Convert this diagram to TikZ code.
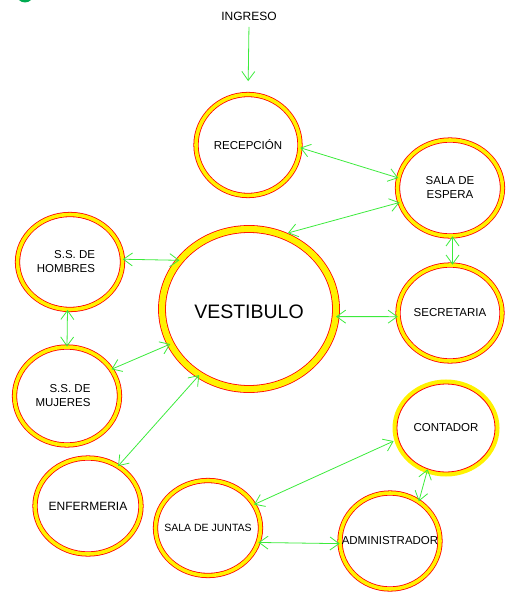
\documentclass[tikz,border=0pt]{standalone}
\usepackage{fontspec}
\setmainfont{Liberation Sans}
\usetikzlibrary{shapes.geometric,arrows.meta}
\definecolor{flecha}{RGB}{60,235,60}
\definecolor{verdeo}{RGB}{0,170,80}
\begin{document}
\begin{tikzpicture}[x=1pt, y=-1pt, >={Straight Barb[length=9pt,width=13pt]},
	sala/.style={ellipse, draw=red, double=yellow, double distance=3.6pt, line width=0.8pt, inner sep=0pt},
	txt/.style={font=\fontsize{11.5}{14}\selectfont, align=#1},
	txt/.default=center,
	flujo/.style={draw=flecha, line width=0.8pt}]
	\useasboundingbox (0,0) rectangle (508,604);
	% resto del logo (cortado arriba)
	\fill[verdeo] (25,-6) circle (8.5);
	% espacios
	\node[sala, minimum width=104, minimum height=101, label={[txt]center:RECEPCIÓN}] (rec) at (248,145) {};
	\node[sala, minimum width=105, minimum height=96, label={[txt]center:SALA DE\\ESPERA}] (esp) at (450,188) {};
	\node[sala, minimum width=104, minimum height=96, label={[txt]center:SECRETARIA}] (sec) at (450,313) {};
	\node[ellipse, draw=red, line width=0.8pt, preaction={draw=yellow, line width=9pt}, fill=white, inner sep=0pt,
		minimum width=98, minimum height=88, label={[txt]center:CONTADOR}] (cont) at (446,428) {};
	\node[sala, minimum width=100, minimum height=96, label={[txt]center:ADMINISTRADOR}] (adm) at (390,541) {};
	\node[sala, minimum width=105, minimum height=95, label={[txt, font=\fontsize{10.5}{13}\selectfont]center:SALA DE JUNTAS}] (jun) at (208,528) {};
	\node[sala, minimum width=106, minimum height=96, label={[txt, font=\fontsize{12}{14}\selectfont]center:ENFERMERIA}] (enf) at (88,506) {};
	\node[sala, minimum width=105, minimum height=95, label={[txt=right, xshift=-4pt]center:S.S. DE\\HOMBRES}] (hom) at (70,262) {};
	\node[sala, minimum width=105, minimum height=98, label={[txt=right, xshift=-4pt]center:S.S. DE\\MUJERES}] (muj) at (67,396) {};
	\node[sala, double distance=6.2pt, minimum width=174, minimum height=160,
		label={[font=\fontsize{19.5}{22}\selectfont, yshift=-3pt]center:VESTIBULO}] (ves) at (249,309) {};
	\node[font=\fontsize{12}{14}\selectfont] (ing) at (249,16) {INGRESO};
	% circulaciones
	\draw[flujo, ->, shorten <=3pt, shorten >=13pt] (ing.south) -- (rec.north);
	\draw[flujo, <->] (rec.-3) -- (esp.169);
	\draw[flujo, <->, shorten >=6pt] (esp.196) -- (ves.66);
	\draw[flujo, <->] (esp.-87) -- (sec.87);
	\draw[flujo, <->] (ves.-5) -- (sec.184);
	\draw[flujo, <->] (hom.3) -- (ves.145);
	\draw[flujo, <->] (hom.-93) -- (muj.north);
	\draw[flujo, <->] (muj.31) -- (ves.204);
	\draw[flujo, <->] (enf.53) -- (ves.233);
	\draw[flujo, <->, shorten <=5pt] (cont.193) -- (jun.27);
	\draw[flujo, <->] (cont.246) -- (adm.54);
	\draw[flujo, <->] (jun.-16) -- (adm.183);
\end{tikzpicture}
\end{document}
